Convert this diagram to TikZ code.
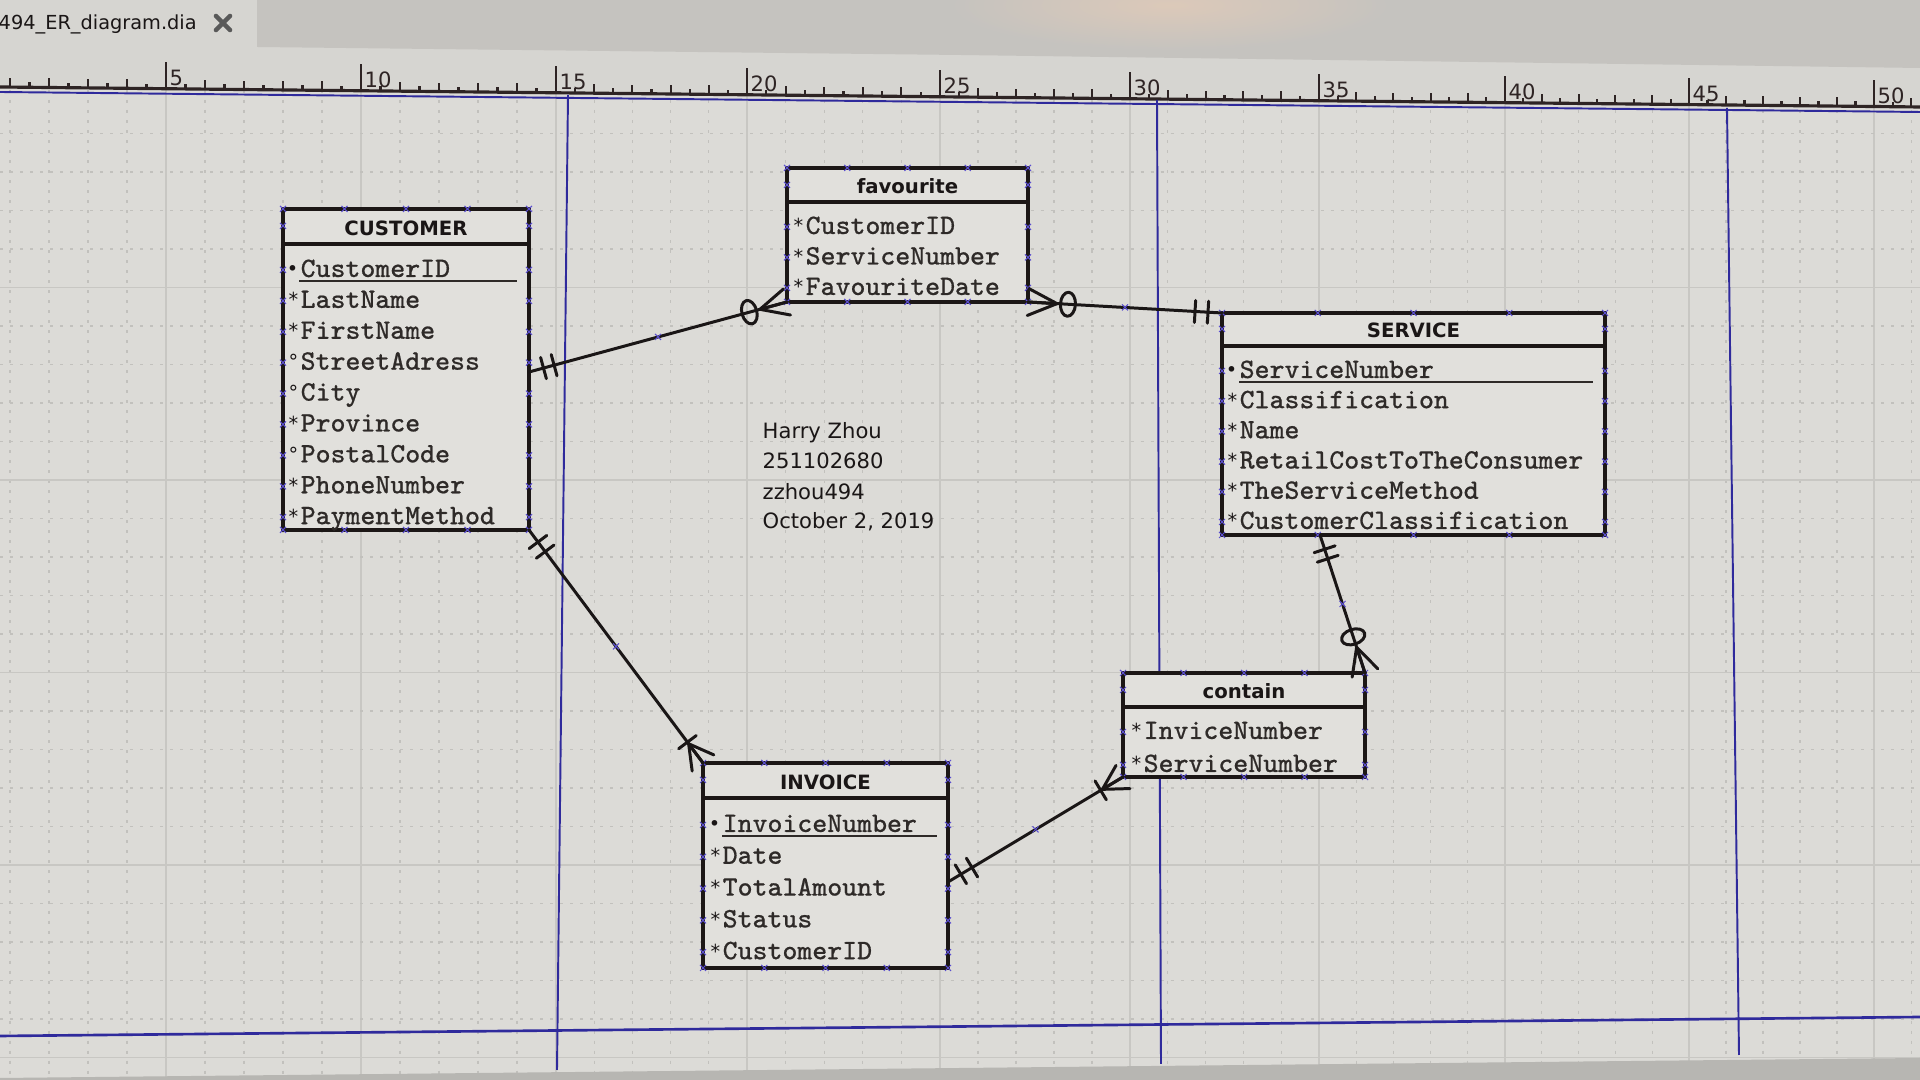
\documentclass[tikz,border=0pt]{standalone}
\usepackage{fontspec}
\usetikzlibrary{calc,fit}
\newfontfamily\monof[FakeBold=0.6]{Latin Modern Mono}
\newfontfamily\uisans{DejaVu Sans}

\definecolor{canvas}{HTML}{DCDBD7}
\definecolor{gridminor}{HTML}{C2C1BD}
\definecolor{gridmajor}{HTML}{C8C7C3}
\definecolor{topband}{HTML}{C5C3BF}
\definecolor{rulerband}{HTML}{D6D5D1}
\definecolor{glare}{HTML}{DCC9B9}
\definecolor{rulerink}{HTML}{2E2424}
\definecolor{pageblue}{HTML}{2F2A9C}
\definecolor{cpblue}{HTML}{5B4FD0}
\definecolor{tabfill}{HTML}{E1E0DC}
\definecolor{tabline}{HTML}{1C1716}
\definecolor{inkattr}{HTML}{2E2A28}
\definecolor{inkdark}{HTML}{1A1616}
\definecolor{bottomstrip}{HTML}{B7B6B2}

% perpendicular bar on the line #1--#2 at distance #3 from #1
\newcommand{\crossbar}[3]{%
  \path ($(#1)!#3!(#2)$) coordinate (barpt);
  \draw[rel] ($(barpt)!0.11cm!90:(#2)$) -- ($(barpt)!0.11cm!-90:(#2)$);
}
% crow's foot whose toes sit at #1, vertex at distance #3 towards #2
\newcommand{\crowfoot}[3]{%
  \path ($(#1)!#3!(#2)$) coordinate (footpt);
  \draw[rel] ($(#1)!0.135cm!90:(#2)$) -- (footpt) -- ($(#1)!0.135cm!-90:(#2)$);
  \draw[rel] (footpt) -- (#1);
}
% "zero" ring on the line #1--#2 at distance #3 from #1
\newcommand{\crowring}[3]{%
  \draw[rel] let \p1=($(#2)-(#1)$), \n1={atan2(\y1,\x1)} in
    ($(#1)!#3!(#2)$) ellipse[x radius=0.075cm, y radius=0.12cm, rotate=\n1];
}
% small connection-point cross
\newcommand{\cpx}[2]{\draw[cpmark] (#1-3,#2-3) -- (#1+3,#2+3) (#1-3,#2+3) -- (#1+3,#2-3);}
% connection points around a table frame
\newcommand{\cpframe}[5]{%
  \foreach \f in {0,0.25,0.5,0.75,1}{%
    \pgfmathsetmacro\cx{#1+(#3-#1)*\f}
    \cpx{\cx}{#2}\cpx{\cx}{#4}}
  \foreach \cy in {#5}{\cpx{#1}{\cy}\cpx{#3}{\cy}}
}
% entity frame: name, x1, y1, x2, y2, header bottom, title
\newcommand{\entity}[7]{%
  \node[entbox, fit={(#2,#3) (#4,#5)}] (#1) {};
  \draw[entline] (#2,#6) -- (#4,#6);
  \node[enttitle] (#1-title) at ({(#2+#4)/2},#6-8) {#7};
}
% attribute rows: name, text x, first row y, row step, list of marker/text
\newcommand{\attrlist}[5]{%
  \foreach \mk/\txt [count=\i from 0] in {#5}{%
    \pgfmathsetmacro\yy{#3+#4*\i}
    \node[attrmk] (#1-m\i) at (#2-1,\yy+6) {\mk};
    \node[attrtxt] (#1-a\i) at (#2,\yy+7) {\txt};
  }
}
% ruler segments: label / x of label tick / x of next labelled tick
\newcommand{\rulersegs}{0/-29/166,5/166/361,10/361/556,15/556/747,20/747/940,25/940/1130,30/1130/1319,35/1319/1505,40/1505/1689,45/1689/1874,50/1874/2060}

\begin{document}
\begin{tikzpicture}[x=0.01cm,y=-0.01cm,
  entbox/.style={draw=tabline, line width=0.95pt, fill=tabfill, inner sep=0pt, outer sep=0pt},
  entline/.style={draw=tabline, line width=0.95pt},
  enttitle/.style={font=\uisans\bfseries\fontsize{5.6}{6}\selectfont, text=inkdark, inner sep=0pt, anchor=base},
  attrtxt/.style={font=\monof\fontsize{8}{9}\selectfont, text=inkattr, inner sep=0pt, anchor=base west},
  attrmk/.style={font=\uisans\fontsize{5.5}{6}\selectfont, text=inkdark, inner sep=0pt, anchor=base east},
  pkline/.style={draw=inkattr, line width=0.55pt},
  rel/.style={draw=inkdark, line width=0.85pt, line cap=round, line join=round},
  cpmark/.style={draw=cpblue, line width=0.3pt},
  notetxt/.style={font=\uisans\fontsize{6}{7}\selectfont, text=inkdark, inner sep=0pt, anchor=base west},
  rulernum/.style={font=\uisans\fontsize{6}{7}\selectfont, text=rulerink, inner sep=0pt, anchor=base west},
  rulertick/.style={draw=rulerink, line width=0.6pt},
  gridmin/.style={draw=gridminor, line width=0.35pt, dash pattern=on 0.03cm off 0.07cm},
  gridmaj/.style={draw=gridmajor, line width=0.45pt},
  pageline/.style={draw=pageblue, line width=0.55pt}]

\useasboundingbox (0,0) rectangle (1920,1080);
\fill[canvas] (0,0) rectangle (1920,1080);

% drawing grid
\foreach \n/\xa/\xb in \rulersegs{%
  \foreach \j in {0,2,4,6,8}{%
    \pgfmathsetmacro\gx{\xa+(\xb-\xa)*\j/10}
    \ifnum\j=0 \draw[gridmaj] (\gx,90) -- (\gx,1080);
    \else \draw[gridmin] (\gx,90) -- (\gx,1080); \fi
  }
}
\foreach \v in {1,...,26}{%
  \pgfmathsetmacro\gy{95+38.5*\v}
  \pgfmathtruncatemacro\isbig{mod(\v,5)==0}
  \ifnum\isbig=1 \draw[gridmaj] (0,\gy) -- (1920,\gy);
  \else \draw[gridmin] (0,\gy) -- (1920,\gy); \fi
}

% window bar, tab and ruler band
\fill[rulerband] (0,0) -- (1920,0) -- (1920,107) -- (0,87) -- cycle;
\begin{scope}
  \clip (257,0) -- (1920,0) -- (1920,68) -- (960,55) -- (257,47) -- cycle;
  \fill[topband] (0,0) rectangle (1920,80);
  \shade[inner color=glare, outer color=topband] (1170,5) ellipse [x radius=2.2cm, y radius=0.45cm];
\end{scope}
\node[font=\uisans\fontsize{5.5}{6}\selectfont, text=inkdark, inner sep=0pt, anchor=base west] (tabname) at (-2,30) {494\_ER\_diagram.dia};
\draw[draw=black!65, line width=1.3pt, line cap=round] (216,16) -- (230,30) (216,30) -- (230,16);

% ruler
\foreach \n/\xa/\xb in \rulersegs{%
  \foreach \j in {0,...,9}{%
    \pgfmathsetmacro\tx{\xa+(\xb-\xa)*\j/10}
    \pgfmathsetmacro\ty{87+\tx/96}
    \pgfmathsetmacro\tl{ifthenelse(\j==0,27,ifthenelse(mod(\j,2)==0,9,5))}
    \draw[rulertick] (\tx,\ty) -- (\tx,\ty-\tl);
  }
  \ifnum\n>0
    \pgfmathsetmacro\ty{87+\xa/96}
    \node[rulernum] (rn\n) at (\xa+3,\ty-3) {\n};
  \fi
}
\draw[draw=rulerink, line width=0.9pt] (0,87) -- (1920,107);
\draw[pageline] (0,92) -- (1920,112);

% page boundaries
\draw[pageline] (568,95) -- (557,1070);
\draw[pageline] (1157,100) -- (1161,1064);
\draw[pageline] (1727,108) -- (1739,1055);
\draw[pageline, line width=0.75pt] (0,1036) -- (1920,1017);
\fill[bottomstrip] (0,1078) -- (1920,1058) -- (1920,1080) -- (0,1080) -- cycle;

% entities
\entity{customer}{283}{209}{529}{530}{244}{CUSTOMER}
\attrlist{customer}{300}{270}{30.9}{•/CustomerID,*/LastName,*/FirstName,°/StreetAdress,°/City,*/Province,°/PostalCode,*/PhoneNumber,*/PaymentMethod}
\draw[pkline] (299,281) -- (517,281);
\cpframe{283}{209}{529}{530}{226,270,300.9,331.8,362.7,393.6,424.5,455.4,486.3,517.2}

\entity{favourite}{787}{168}{1028}{302}{202}{favourite}
\attrlist{favourite}{805}{227}{30.5}{*/CustomerID,*/ServiceNumber,*/FavouriteDate}
\cpframe{787}{168}{1028}{302}{185,227,257.5,288}

\entity{service}{1222}{313}{1605}{535}{346}{SERVICE}
\attrlist{service}{1239}{371}{30.2}{•/ServiceNumber,*/Classification,*/Name,*/RetailCostToTheConsumer,*/TheServiceMethod,*/CustomerClassification}
\draw[pkline] (1239,382) -- (1593,382);
\cpframe{1222}{313}{1605}{535}{329,371,401.2,431.4,461.6,491.8,522}

\entity{invoice}{703}{763}{948}{968}{798}{INVOICE}
\attrlist{invoice}{722}{825}{31.8}{•/InvoiceNumber,*/Date,*/TotalAmount,*/Status,*/CustomerID}
\draw[pkline] (722,836) -- (937,836);
\cpframe{703}{763}{948}{968}{780,825,856.8,888.6,920.4,952.2}

\entity{contain}{1123}{673}{1365}{777}{707}{contain}
\attrlist{contain}{1143}{732}{33}{*/InviceNumber,*/ServiceNumber}
\cpframe{1123}{673}{1365}{777}{690,732,765}

% relationships
\coordinate (r1a) at (customer.east |- 0,372);
\coordinate (r1b) at (favourite.south west);
\draw[rel] (r1a) -- (r1b);
\crossbar{r1a}{r1b}{0.15cm}\crossbar{r1a}{r1b}{0.26cm}
\crowfoot{r1b}{r1a}{0.28cm}\crowring{r1b}{r1a}{0.39cm}

\coordinate (r2a) at (favourite.south east);
\coordinate (r2b) at (service.north west);
\draw[rel] (r2a) -- (r2b);
\crowfoot{r2a}{r2b}{0.29cm}\crowring{r2a}{r2b}{0.40cm}
\crossbar{r2b}{r2a}{0.14cm}\crossbar{r2b}{r2a}{0.27cm}

\coordinate (r3a) at (customer.south east);
\coordinate (r3b) at (invoice.north west);
\draw[rel] (r3a) -- (r3b);
\crossbar{r3a}{r3b}{0.15cm}\crossbar{r3a}{r3b}{0.27cm}
\crowfoot{r3b}{r3a}{0.24cm}\crossbar{r3b}{r3a}{0.26cm}

\coordinate (r4a) at (invoice.east |- 0,882);
\coordinate (r4b) at (contain.south west);
\draw[rel] (r4a) -- (r4b);
\crossbar{r4a}{r4b}{0.15cm}\crossbar{r4a}{r4b}{0.28cm}
\crowfoot{r4b}{r4a}{0.24cm}\crossbar{r4b}{r4a}{0.26cm}

\coordinate (r5a) at (1320,0 |- service.south);
\coordinate (r5b) at (contain.north east);
\draw[rel] (r5a) -- (r5b);
\crossbar{r5a}{r5b}{0.15cm}\crossbar{r5a}{r5b}{0.25cm}
\crowfoot{r5b}{r5a}{0.27cm}\crowring{r5b}{r5a}{0.38cm}

% line handles at the midpoints
\foreach \r in {r1,r2,r3,r4,r5}{%
  \path ($(\r a)!0.5!(\r b)$) coordinate (\r mid);
  \draw[cpmark] ($(\r mid)+(-3,-3)$) -- ($(\r mid)+(3,3)$) ($(\r mid)+(-3,3)$) -- ($(\r mid)+(3,-3)$);
}

% author note
\node[notetxt] (note1) at (762,439) {Harry Zhou};
\node[notetxt] (note2) at (762,469) {251102680};
\node[notetxt] (note3) at (762,500) {zzhou494};
\node[notetxt] (note4) at (762,529) {October 2, 2019};

\end{tikzpicture}
\end{document}
